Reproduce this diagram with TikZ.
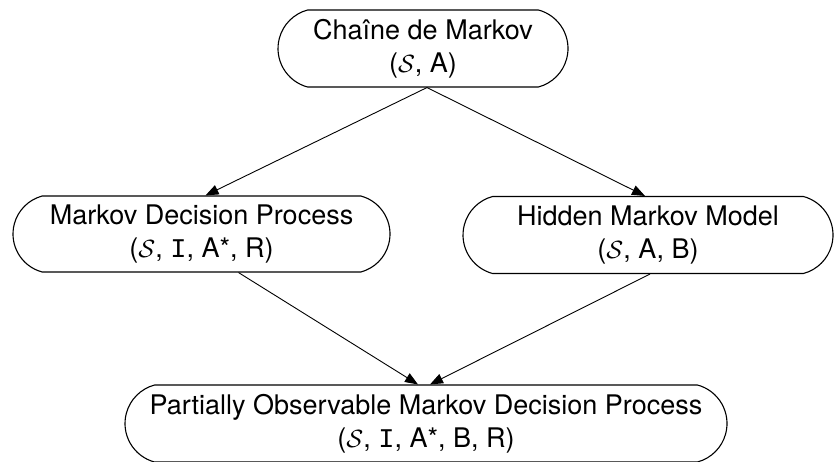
\documentclass[tikz,border=0pt]{standalone}
\usepackage{fontspec}
\setmainfont{TeX Gyre Heros}
\newfontfamily\monofam{Liberation Mono}
\usetikzlibrary{shapes.misc,arrows.meta}
\tikzset{
  mbox/.style={rounded rectangle, rounded rectangle arc length=150, draw, line width=1.1pt,
    inner sep=0pt, align=center, font=\fontsize{27}{33}\selectfont},
  arr/.style={line width=0.9pt, -{Triangle[length=13pt,width=10pt]}}
}
\newcommand{\SI}{\ensuremath{\mathcal{S}}}
\newcommand{\II}{{\monofam I}}
\begin{document}
\begin{tikzpicture}[x=1pt,y=-1pt]
\useasboundingbox (0,0) rectangle (834,461);
\node[mbox, minimum width=290pt, minimum height=77pt] (top) at (423,48.5) {Chaîne de Markov\\(\SI, A)};
\node[mbox, minimum width=377pt, minimum height=76pt] (mdp) at (201.5,234) {Markov Decision Process\\(\SI, \II, A*, R)};
\node[mbox, minimum width=370pt, minimum height=77pt] (hmm) at (648,235) {Hidden Markov Model\\(\SI, A, B)};
\node[mbox, minimum width=602pt, minimum height=77pt] (pomdp) at (426,423.5) {Partially Observable Markov Decision Process\\(\SI, \II, A*, B, R)};
\draw[arr] ([xshift=4pt]top.south) -- ([xshift=4pt]mdp.north);
\draw[arr] ([xshift=4pt]top.south) -- ([xshift=-3pt]hmm.north);
\draw[arr] ([xshift=37pt]mdp.south) -- ([xshift=-8pt]pomdp.north);
\draw[arr] ([xshift=2pt]hmm.south) -- ([xshift=4pt]pomdp.north);
\end{tikzpicture}
\end{document}
